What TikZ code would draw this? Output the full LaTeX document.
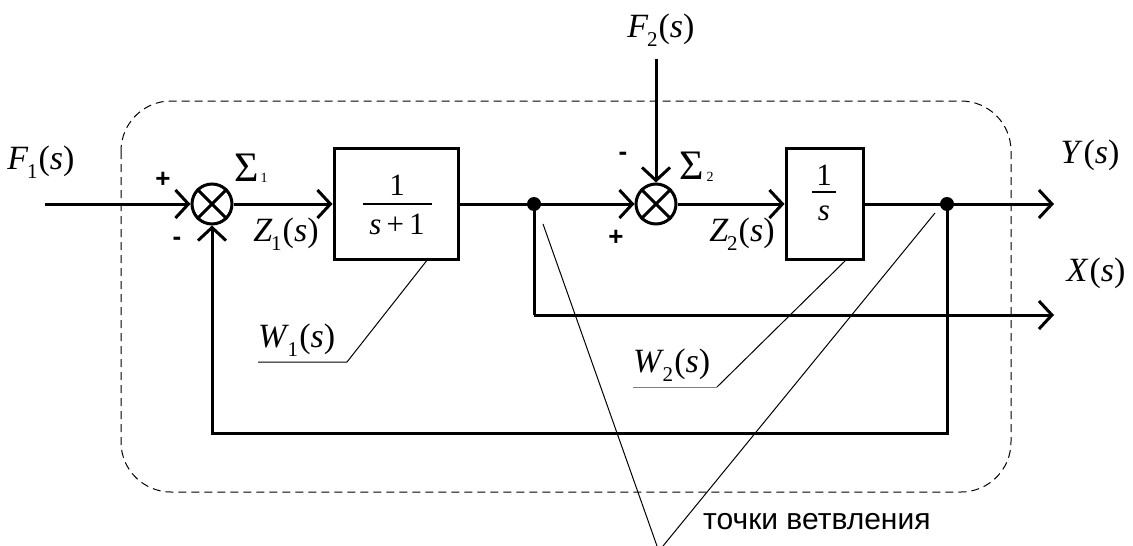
\documentclass[tikz,border=0pt]{standalone}
\usepackage{fontspec}
\setmainfont{Liberation Serif}
\newfontfamily\serf{Liberation Serif}
\newfontfamily\sansf{Liberation Sans}
\usetikzlibrary{arrows.meta}
\newcommand{\lb}[2]{\textit{#1}\kern-0.04em\raisebox{-0.28em}{\fontsize{21}{21}\selectfont #2}\kern0.03em(\textit{s})}
\newcommand{\lbn}[1]{\textit{#1}\kern0.03em(\textit{s})}
\begin{document}
\begin{tikzpicture}[x=1pt,y=-1pt,
  sigline/.style={line width=3pt},
  arr/.style={line width=3pt,-{Straight Barb[length=13pt,width=28pt]}},
  leader/.style={line width=1pt},
  sumnode/.style={circle,draw,line width=3pt,minimum size=40pt,inner sep=0pt},
  block/.style={draw,line width=3pt,inner sep=0pt},
  dotnode/.style={circle,fill,inner sep=0pt,minimum size=14pt},
  lab/.style={font=\serf\fontsize{34}{36}\selectfont,inner sep=0pt},
  fr/.style={font=\serf\fontsize{31}{32}\selectfont,inner sep=0pt},
  sgn/.style={font=\sansf\bfseries\fontsize{26}{26}\selectfont,inner sep=0pt},
  sigma/.style={font=\serf\fontsize{42}{42}\selectfont,inner sep=0pt},
  sigsub/.style={font=\serf\fontsize{14}{14}\selectfont,inner sep=0pt}
]
\useasboundingbox (0,0) rectangle (1133,546);
% dashed frame
\draw[line width=1pt,dash pattern=on 8pt off 5pt,rounded corners=50pt] (121,101) rectangle (1011,492);

% summing junctions
\node[sumnode] (s1) at (212,204) {};
\draw[line width=3pt] (s1.north west) -- (s1.south east) (s1.north east) -- (s1.south west);
\node[sumnode] (s2) at (656,204) {};
\draw[line width=3pt] (s2.north west) -- (s2.south east) (s2.north east) -- (s2.south west);

% blocks
\node[block,minimum width=124pt,minimum height=111pt] (b1) at (396,204) {};
\node[block,minimum width=77pt,minimum height=111pt] (b2) at (824.5,204) {};

% fractions
\node[fr] (n1) at (397,185) {1};
\node[fr] (d1) at (397,224) {\textit{s}\,+\,1};
\draw[line width=1.5pt] (363,204) -- (432,204);
\node[fr] (n2) at (824,175) {1};
\node[fr] (d2) at (824,213) {\textit{s}};
\draw[line width=1.5pt] (812,192) -- (836,192);

% branch points
\node[dotnode] (p1) at (534,204) {};
\node[dotnode] (p2) at (947,204) {};

% input/output coordinates
\coordinate (f1) at (45,204);
\coordinate (f2) at (656,59);
\coordinate (yo) at (1054,204);
\coordinate (xc) at (534,315);
\coordinate (xo) at (1054,315);
\coordinate (fbr) at (947,433);
\coordinate (fbl) at (212,433);

% signal lines
\draw[arr] (f1) -- (s1.west);
\draw[arr] (s1.east) -- (b1.west);
\draw[sigline] (b1.east) -- (p1.center);
\draw[arr] (p1.center) -- (s2.west);
\draw[arr] (f2) -- (s2.north);
\draw[arr] (s2.east) -- (b2.west);
\draw[sigline] (b2.east) -- (p2.center);
\draw[arr] (p2.center) -- (yo);
\draw[sigline] (p1.center) -- (xc);
\draw[arr] (xc) -- (xo);
\draw[arr] (p2.center) -- (fbr) -- (fbl) -- (s1.south);

% labels
\node[lab] (lF1) at (41,162) {\lb{F}{1}};
\node[lab] (lF2) at (661,30) {\lb{F}{2}};
\node[lab] (lY) at (1090,155) {\lbn{Y}};
\node[lab] (lX) at (1096,273) {\lbn{X}};
\node[lab] (lZ1) at (286,234) {\lb{Z}{1}};
\node[lab] (lZ2) at (742,234) {\lb{Z}{2}};
\node[lab,anchor=south west] (lW1) at (258,357) {\lb{W}{1}};
\node[lab,anchor=south west] (lW2) at (633,382) {\lb{W}{2}};

% sigma symbols
\node[sigma] (S1) at (247,168) {Σ};
\node[sigsub] (S1s) at (264,178) {1};
\node[sigma] (S2) at (692,166) {Σ};
\node[sigsub] (S2s) at (710,177) {2};

% signs
\node[sgn] (pl1) at (163,180) {+};
\node[sgn] (mi1) at (177,241) {-};
\node[sgn] (mi2) at (623,156) {-};
\node[sgn] (pl2) at (616,238) {+};

% leader lines for transfer functions
\coordinate (w1a) at (258,362);
\coordinate (w1b) at (347,362);
\coordinate (w1c) at (428,259);
\draw[leader] (w1a) -- (w1b) -- (w1c);
\coordinate (w2a) at (633,387);
\coordinate (w2b) at (717,387);
\coordinate (w2c) at (847,259);
\draw[leader,gray] (w2a) -- (w2b);
\draw[leader] (w2b) -- (w2c);

% branch point annotation
\node[font=\sansf\fontsize{30}{32}\selectfont,anchor=base west,inner sep=0pt] (tv) at (703,529) {точки ветвления};
\coordinate (t1) at (543,224);
\coordinate (t2) at (935,213);
\coordinate (tb1) at (657,546);
\coordinate (tb2) at (663,546);
\draw[leader] (t1) -- (tb1);
\draw[leader] (t2) -- (tb2);
\end{tikzpicture}
\end{document}
